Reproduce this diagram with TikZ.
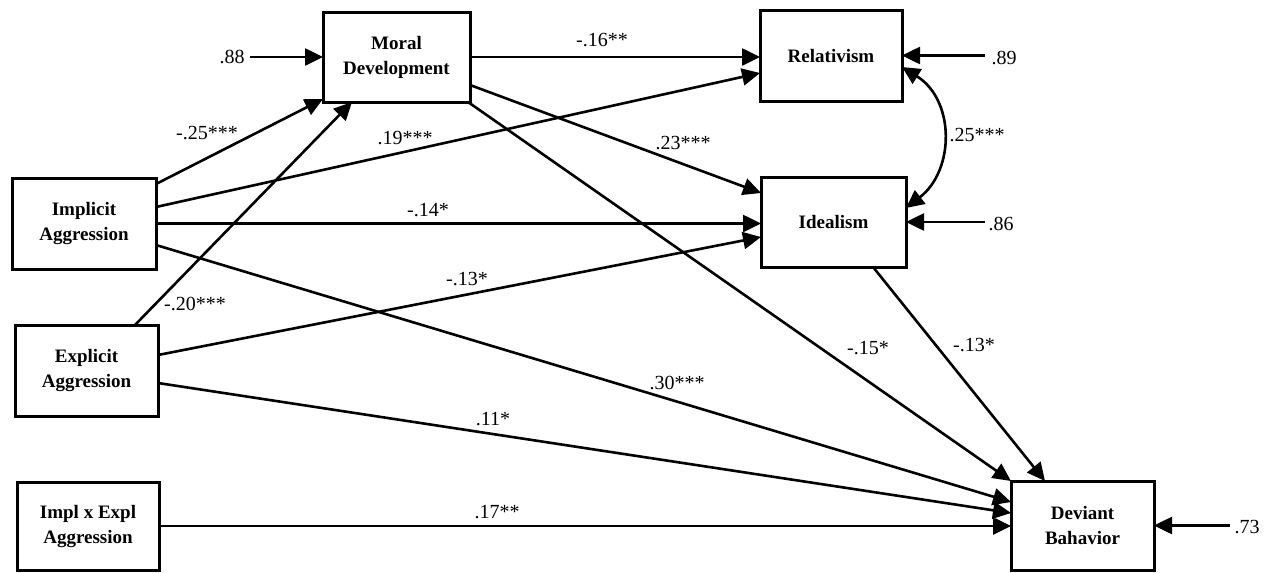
\documentclass[tikz,border=0pt]{standalone}
\usepackage{fontspec}
\setmainfont{Liberation Serif}
\usetikzlibrary{arrows.meta,calc}
\begin{document}
\begin{tikzpicture}[x=1pt,y=-1pt,
  box/.style={draw,line width=3pt,inner sep=0pt,outer sep=0pt,align=center,
    font=\bfseries\fontsize{19}{25}\selectfont},
  tip/.tip={Triangle[length=18pt,width=17pt]},
  path/.style={line width=2.6pt,-tip},
  coef/.style={inner sep=0pt,font=\fontsize{20}{22}\selectfont}]
\useasboundingbox (0,0) rectangle (1267,573);

\node[box,minimum width=147pt,minimum height=90pt] (moral) at (396.5,57) {Moral\\Development};
\node[box,minimum width=142pt,minimum height=91pt] (rel) at (831,55.5) {Relativism};
\node[box,minimum width=145pt,minimum height=90pt] (ideal) at (833.5,222) {Idealism};
\node[box,minimum width=144pt,minimum height=91pt] (impl) at (84,223.5) {Implicit\\Aggression};
\node[box,minimum width=143pt,minimum height=91pt] (expl) at (86.5,370.5) {Explicit\\Aggression};
\node[box,minimum width=142pt,minimum height=88pt] (ixe) at (88,526) {Impl x Expl\\Aggression};
\node[box,minimum width=143pt,minimum height=89pt] (dev) at (1082.5,525.5) {Deviant\\Bahavior};

\coordinate (e88) at (250,57);
\coordinate (e89) at (985,55.5);
\coordinate (e86) at (985,222);
\coordinate (e73) at (1230,525.5);

% error terms
\draw[path] (e88) -- (moral.west);
\draw[path] (e89) -- (rel.east);
\draw[path] (e86) -- (ideal.east);
\draw[path] (e73) -- (dev.east);
\node[coef] at (232,57) {.88};
\node[coef] at (1004,58) {.89};
\node[coef] at (1001,224) {.86};
\node[coef] at (1247,527) {.73};

% structural paths
\draw[path] (moral.east) -- (moral.east -| rel.west);
\draw[path] ([yshift=16.5pt]impl.east) -- ([yshift=-17.5pt]rel.west);
\draw[path] ([yshift=-6pt]impl.north east) -- ([yshift=3pt]moral.south west);
\draw[path] ([xshift=48.5pt]expl.north) -- ([xshift=-44.5pt]moral.south);
\draw[path] ([yshift=-28pt]moral.east) -- ([yshift=29pt]ideal.west);
\draw[path] ([xshift=-2pt]moral.south east) -- (dev.north west);
\draw[path] (impl.east) -- (impl.east -| ideal.west);
\draw[path] ([yshift=15.5pt]expl.east) -- ([yshift=-15pt]ideal.west);
\draw[path] ([yshift=-21.5pt]impl.east) -- ([yshift=23.5pt]dev.west);
\draw[path] ([yshift=-12.5pt]expl.east) -- ([yshift=12.5pt]dev.west);
\draw[path] (ixe.east) -- (ixe.east -| dev.west);
\draw[path] ([xshift=39.5pt]ideal.south) -- ([xshift=-37.5pt]dev.north);

% correlation
\draw[line width=2.6pt,tip-tip]
  ([yshift=-11.5pt]rel.east) .. controls (955,100) and (955,170) .. ([yshift=14pt]ideal.east);

% coefficients
\node[coef] at (602,40) {-.16**};
\node[coef] at (405,138) {.19***};
\node[coef] at (207,133) {-.25***};
\node[coef] at (683,143) {.23***};
\node[coef] at (428,210) {-.14*};
\node[coef] at (195,304) {-.20***};
\node[coef] at (467,279) {-.13*};
\node[coef] at (677,383) {.30***};
\node[coef] at (493,419) {.11*};
\node[coef] at (497,512) {.17**};
\node[coef] at (868,348) {-.15*};
\node[coef] at (974,345) {-.13*};
\node[coef] at (977,135) {.25***};
\end{tikzpicture}
\end{document}
